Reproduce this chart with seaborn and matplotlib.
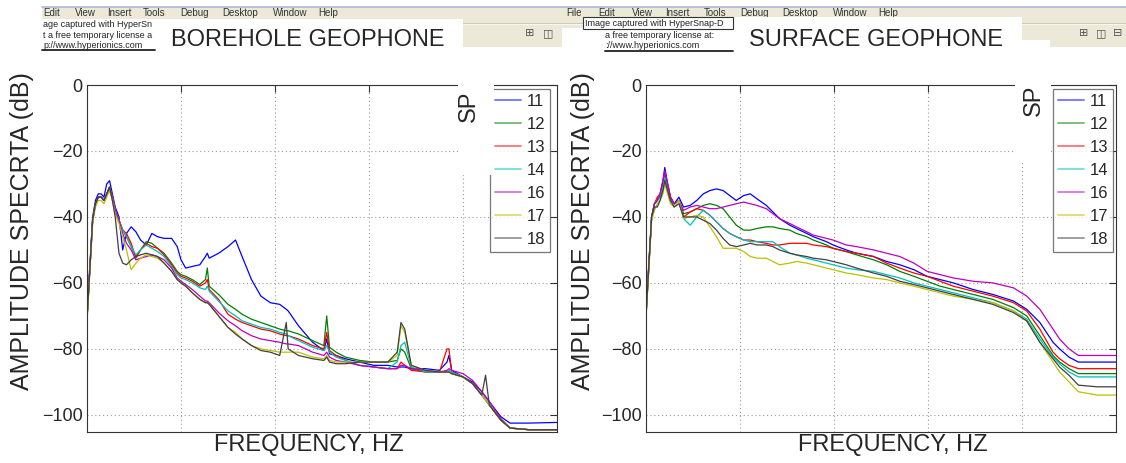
import matplotlib
matplotlib.use("Agg")
import numpy as np
import pandas as pd
import matplotlib.pyplot as plt
from matplotlib.patches import Rectangle
from matplotlib.lines import Line2D
import seaborn as sns

# ---------------- data ----------------
SP_LABELS = ["11", "12", "13", "14", "16", "17", "18"]
SP_COLORS = ["#0000ff", "#008000", "#ff0000", "#00bfbf", "#bf00bf", "#bfbf00", "#404040"]

Y_TICKS = [0, -20, -40, -60, -80, -100]
X_GRID = [100, 200, 300, 400]

# Borehole geophone (left)
bh_freq = [0, 3, 6, 9, 12, 15, 18, 21, 24, 27,
           30, 34, 38, 42, 47, 52, 57, 63, 69, 75,
           82, 90, 96, 100, 105, 112, 120, 126, 128, 130,
           140, 150, 158, 165, 175, 185, 195, 205, 212, 214,
           225, 240, 252, 255, 258, 265, 275, 290, 305, 320,
           330, 334, 338, 345, 360, 375, 383, 385, 388, 400,
           410, 420, 424, 428, 440, 450, 470, 500]
bh_sp11 = [-69, -55, -40, -35, -33, -33, -34, -30, -29, -33,
           -37, -40, -50, -45, -43, -44.5, -47, -48.5, -45, -46,
           -46.5, -46.5, -49, -53, -55.5, -55, -54.5, -52, -51, -52.5,
           -51, -49, -47, -52, -59, -64, -66, -66.5, -68, -68.5,
           -73, -78, -80.5, -77, -81.5, -82, -83, -84, -85, -85,
           -85.5, -85.5, -85.5, -86, -86, -86.5, -84, -82, -86.5, -88.5,
           -90, -93, -94.5, -96, -100.5, -102.5, -102.5, -102.3]
bh_sp12 = [-71, -56, -41, -36, -34, -34, -35, -33, -31, -34,
           -38, -41, -44, -46, -49, -52, -50, -47.5, -48, -49.5,
           -51, -54, -56.5, -57.5, -58, -59, -60.5, -59, -55.5, -61,
           -63.5, -66.5, -68, -69.5, -71, -72, -73, -74, -74.5, -74.5,
           -75.5, -77.5, -79, -70, -79.5, -81, -82.5, -83.5, -84, -84,
           -83.5, -80, -81, -86, -87, -87, -87, -87, -87.5, -88.5,
           -90.5, -94, -95.5, -97, -101.5, -104, -104.5, -104.5]
bh_sp13 = [-71, -56, -41, -36, -34, -34, -35, -33, -31, -34,
           -38, -41, -44, -45, -48, -52.5, -50, -48, -49, -49.5,
           -51.5, -54.5, -57, -58, -58.5, -59.5, -61, -60, -59, -62,
           -65, -69.5, -71, -72, -73, -74, -74.5, -75.5, -76, -76,
           -77, -79, -80, -75, -80.5, -82, -83.5, -85, -85.5, -86,
           -86, -84, -85, -86.5, -87, -87, -80, -80, -87, -88.5,
           -90.5, -94, -95.5, -97, -101.5, -104, -104.5, -104.5]
bh_sp14 = [-71, -56, -41, -36, -34, -34, -35, -33, -31, -34,
           -38, -41, -44, -46, -49, -51.5, -50, -48.5, -49.5, -50.5,
           -52, -55, -57.5, -58.5, -59, -60, -61.5, -62, -61, -62.5,
           -65.5, -68.5, -70, -71.5, -72.5, -73.5, -74, -75, -75.5, -76,
           -77.5, -79.5, -80.5, -79, -81, -82.5, -83.5, -85, -85.5, -86,
           -84, -79, -78, -85.5, -87, -87, -87, -86.5, -87, -88.5,
           -90.5, -94, -95.5, -97, -101.5, -104, -104.5, -104.5]
bh_sp16 = [-71, -56, -41, -36, -34, -34, -35, -33, -31, -34,
           -38, -41, -45, -48, -50, -53, -52.5, -52, -51.5, -52,
           -53, -55.5, -58.5, -59.5, -60.5, -62, -64, -65.5, -65.5, -66,
           -69, -71.5, -73, -74.5, -76, -77, -77.5, -78, -78.5, -78.5,
           -79, -81, -82, -81, -82.5, -83.5, -84, -85, -85.5, -86,
           -86, -85, -85, -86, -86.5, -87, -86.5, -86, -86.5, -87.5,
           -89.5, -93, -94.5, -96, -101, -104, -104.5, -104.5]
bh_sp17 = [-72, -57, -42, -37, -35, -35, -36, -34, -32, -35,
           -39, -42, -46, -50, -56, -54, -52.5, -51.5, -52, -52.5,
           -54, -56.5, -59, -60, -61, -63, -65, -66, -66, -66.5,
           -70, -73.5, -75, -77, -79, -80, -80.5, -81, -81, -81,
           -81, -82.5, -83, -82, -83.5, -84, -84, -84, -84, -84,
           -82, -73, -75, -85, -86.5, -87, -87, -87, -87.5, -88.5,
           -90.5, -94, -95.5, -97, -101.5, -104, -104.5, -104.5]
bh_sp18 = [-71, -56, -41, -36, -34, -34, -35, -33, -31, -35,
           -40, -51, -54, -54.5, -53, -52, -51.5, -51, -51.5, -52,
           -54, -56.5, -59, -60, -61, -63, -65, -66, -66, -66.5,
           -70, -73.5, -75.5, -77, -79, -80.5, -81, -82, -72, -80,
           -82, -83, -83.5, -82.5, -84, -84.5, -84.5, -84, -84, -84,
           -81, -72, -74, -85, -86.5, -87, -87, -87, -87.5, -88.5,
           -90.5, -94, -88, -97, -101.5, -104, -104.5, -104.5]

# Surface geophone (right)
sf_freq = [0, 3, 6, 9, 12, 15, 18, 20, 23, 26,
           30, 35, 40, 47, 54, 61, 68, 75, 82, 89,
           96, 104, 111, 118, 128, 135, 142, 153, 160, 171,
           178, 192, 199, 213, 224, 242, 256, 270, 285, 299,
           313, 327, 348, 369, 391, 405, 419, 433, 440, 450,
           460, 480, 500]
sf_sp11 = [-69, -54, -40, -36, -35, -33, -29, -25, -30, -34,
           -36, -34, -37, -36.5, -35, -33, -32, -31.5, -32, -33.5,
           -35, -33.5, -33, -34.5, -36.5, -38.5, -40.5, -42.5, -43.5, -45,
           -46, -47.5, -48.5, -50, -51, -52, -53.5, -54.5, -56, -58,
           -59, -60, -62, -63.5, -65.5, -68, -72, -78, -80, -82.5,
           -84, -84, -84]
sf_sp12 = [-70, -55, -40, -36, -35, -34, -31, -28, -31, -35,
           -36, -35, -39, -38.5, -37.5, -36.5, -36, -36.5, -37.5, -40,
           -42.5, -44, -44, -43.5, -43, -43, -43.5, -44, -45, -46,
           -47, -48.5, -49.5, -50.5, -51.5, -53, -54.5, -56.5, -58, -59.5,
           -61, -62, -63.5, -65, -67.5, -70, -76, -82, -84, -86,
           -87.5, -87.5, -87.5]
sf_sp13 = [-70, -55, -40, -36, -34, -33, -30, -27, -30, -34,
           -36, -35, -40, -38.5, -37.5, -38, -39.5, -41.5, -43.5, -45,
           -46, -47, -47, -47.5, -48, -48.5, -48.5, -48, -48, -48,
           -48.5, -49, -49.5, -50.5, -51, -52, -54, -55.5, -57, -58,
           -59.5, -61, -62.5, -64, -66, -68.5, -74, -81, -83, -85,
           -86, -86, -86]
sf_sp14 = [-70, -55, -40, -36, -35, -34, -31, -28, -31, -35,
           -36, -35, -40.5, -42.5, -40, -38, -39.5, -41.5, -43.5, -45,
           -46, -47, -47.5, -47.5, -47.5, -47.5, -49, -51, -51.5, -52.5,
           -53, -54, -54.5, -55.5, -56, -56.5, -57.5, -58.5, -60, -61,
           -62, -63, -64.5, -66, -68.5, -71, -77, -82.5, -84.5, -87,
           -88.5, -88.5, -88.5]
sf_sp16 = [-70, -55, -40, -36, -35, -33, -29, -26, -30, -34,
           -36, -35, -38, -37, -36.5, -37, -37.5, -37.5, -37, -36.5,
           -36, -35.5, -36, -36.5, -37.5, -39, -40.5, -42, -43, -44.5,
           -45.5, -46.5, -47, -48.5, -49, -50, -51, -52, -54, -56.5,
           -57.5, -58.5, -59.5, -60, -61.5, -64, -68, -74, -77, -80,
           -82, -82, -82]
sf_sp17 = [-71, -56, -41, -38, -36, -35, -33, -30, -33, -36,
           -37, -35, -40.5, -40, -39.5, -40, -43, -46, -49.5, -49.5,
           -49.5, -50.5, -52, -52.5, -52.5, -53.5, -54.5, -54, -53.5, -54,
           -54.5, -55.5, -56, -57, -57.5, -58.5, -59, -60, -61, -62,
           -63, -64, -65, -66, -68.5, -71.5, -78, -84, -87, -90,
           -93, -94, -94]
sf_sp18 = [-70, -55, -40, -37, -37, -35, -32, -29, -32, -35,
           -37, -36, -40, -40, -40, -41, -42, -44, -46.5, -48.5,
           -49, -48.5, -48, -48.5, -48.5, -49, -50, -51, -51.5, -52,
           -52.5, -53, -53.5, -54.5, -55.5, -57, -58, -59.5, -60.5, -61.5,
           -62.5, -63.5, -65, -66.5, -69, -71.5, -78, -83, -85.5, -88,
           -91, -91.5, -91.5]

BH_CURVES = [bh_sp11, bh_sp12, bh_sp13, bh_sp14, bh_sp16, bh_sp17, bh_sp18]
SF_CURVES = [sf_sp11, sf_sp12, sf_sp13, sf_sp14, sf_sp16, sf_sp17, sf_sp18]

# ---------------- style ----------------
sns.set_style("white")
plt.rcParams["font.family"] = ["Liberation Sans", "DejaVu Sans"]

W, H = 1126, 463
fig = plt.figure(figsize=(W / 100, H / 100), dpi=100)
fig.patch.set_facecolor("white")


def frect(x0, y0, x1, y1, **kw):
    fig.add_artist(Rectangle((x0 / W, 1 - y1 / H), (x1 - x0) / W, (y1 - y0) / H,
                             transform=fig.transFigure, **kw))


def fline(x0, y0, x1, y1, **kw):
    fig.add_artist(Line2D([x0 / W, x1 / W], [1 - y0 / H, 1 - y1 / H],
                          transform=fig.transFigure, **kw))


def ftext(x, y, s, **kw):
    fig.text(x / W, 1 - y / H, s, **kw)


def long_df(freq, curves):
    frames = [pd.DataFrame({"freq": freq, "db": vals, "SP": lab})
              for lab, vals in zip(SP_LABELS, curves)]
    return pd.concat(frames, ignore_index=True)


palette = dict(zip(SP_LABELS, SP_COLORS))


def draw_panel(left_px, freq, curves, legend_right_px):
    ax = fig.add_axes([left_px / W, (H - 432) / H, 470 / W, 347 / H])
    df = long_df(freq, curves)
    sns.lineplot(data=df, x="freq", y="db", hue="SP", hue_order=SP_LABELS,
                 palette=palette, estimator=None, sort=False, lw=0.9,
                 legend=False, ax=ax)
    ax.set_xlim(0, 500)
    ax.set_ylim(-105.2, 0)
    ax.set_yticks(Y_TICKS)
    ax.set_xticks(X_GRID)
    ax.tick_params(axis="both", direction="in", length=5, width=0.8,
                   top=True, right=True, labelsize=13, color="#333333",
                   labelbottom=False, pad=3)
    ax.grid(True, linestyle=(0, (1, 2.5)), color="#9a9a9a", lw=0.8)
    for sp in ax.spines.values():
        sp.set_color("#333333")
        sp.set_linewidth(0.8)
    ax.set_xlabel("")
    ax.set_ylabel("")
    handles = [Line2D([], [], color=c, lw=1.3, alpha=0.55) for c in SP_COLORS]
    leg = ax.legend(handles, SP_LABELS, loc="upper right",
                    bbox_to_anchor=((legend_right_px - left_px) / 470, 1 - 4 / 347),
                    fontsize=12, frameon=True, fancybox=False, edgecolor="#555555",
                    handlelength=1.6, handletextpad=0.3, labelspacing=0.48,
                    borderpad=0.3, borderaxespad=0)
    leg.get_frame().set_linewidth(0.9)
    return ax


ax1 = draw_panel(87, bh_freq, BH_CURVES, 550)
ax2 = draw_panel(646, sf_freq, SF_CURVES, 1113)

# axis labels
ftext(22, 231, "AMPLITUDE SPECRTA (dB)", rotation=90, ha="center", va="center", fontsize=18)
ftext(583, 231, "AMPLITUDE SPECRTA (dB)", rotation=90, ha="center", va="center", fontsize=18)
ftext(309, 445, "FREQUENCY, HZ", ha="center", va="center", fontsize=17)
ftext(893, 445, "FREQUENCY, HZ", ha="center", va="center", fontsize=17)

# SP labels with white background patches
frect(458, 83, 494, 175, fc="white", ec="none", zorder=2)
frect(1015, 83, 1051, 163, fc="white", ec="none", zorder=2)
ftext(469, 106, "SP", rotation=90, ha="center", va="center", fontsize=17, zorder=3)
ftext(1034, 100, "SP", rotation=90, ha="center", va="center", fontsize=17, zorder=3)

# ---------------- window header (screenshot residue) ----------------
frect(42, 7, W, 47, fc="#ECE9D8", ec="none", zorder=1)
fline(42, 7, W, 7, color="#AEB8D6", lw=1.2, zorder=1.5)
fline(42, 23, W, 23, color="#CFCBBB", lw=0.8, zorder=1.5)
fline(42, 24, W, 24, color="#FAF9F4", lw=0.6, zorder=1.5)

menu_kw = dict(ha="left", va="center", fontsize=7, color="#333333", zorder=1.6)
for x, w in [(43, "Edit"), (75, "View"), (107, "Insert"), (143, "Tools"),
             (180, "Debug"), (222, "Desktop"), (273, "Window"), (318, "Help")]:
    ftext(x, 12.5, w, **menu_kw)
for x, w in [(566, "File"), (598, "Edit"), (632, "View"), (665, "Insert"), (704, "Tools"),
             (740, "Debug"), (782, "Desktop"), (833, "Window"), (878, "Help")]:
    ftext(x, 12.5, w, **menu_kw)

wm_kw = dict(ha="left", va="center", fontsize=6.5, color="#222222", zorder=2.5)
# left watermark
frect(42, 19, 155, 50, fc="white", ec="none", zorder=2)
ftext(43, 24.5, "age captured with HyperSn", **wm_kw)
ftext(43, 35, "t a free temporary license a", **wm_kw)
ftext(43, 45, "p://www.hyperionics.com", **wm_kw)
fline(42, 50, 155, 50, color="#222222", lw=1.3, zorder=2.6)
# left title
frect(155, 19, 463, 51, fc="white", ec="none", zorder=2)
ftext(308, 40, "BOREHOLE GEOPHONE", ha="center", va="center", fontsize=17, zorder=3)

# right watermark
frect(562, 28, 733, 52, fc="white", ec="none", zorder=2)
frect(583, 17, 733, 29, fc="white", ec="#333333", lw=0.8, zorder=2.2)
ftext(585, 23.5, "Image captured with HyperSnap-D", **wm_kw)
ftext(605, 35.5, "a free temporary license at:", **wm_kw)
ftext(605, 45, "://www.hyperionics.com", **wm_kw)
fline(605, 51, 733, 51, color="#222222", lw=1.3, zorder=2.6)
# right title
frect(733, 17, 1022, 51, fc="white", ec="none", zorder=2)
ftext(876, 40, "SURFACE GEOPHONE", ha="center", va="center", fontsize=17, zorder=3)
frect(1022, 40, 1050, 52, fc="white", ec="none", zorder=2)

# toolbar icons
icon_kw = dict(ha="center", va="center", fontsize=8, color="#555555", zorder=2,
               family="DejaVu Sans")
for x, s in [(530, "\u229E"), (548, "\u25EB"), (1084, "\u229E"), (1101, "\u25EB"), (1118, "\u229F")]:
    ftext(x, 33, s, **icon_kw)

fig.savefig("out.png", dpi=100)
